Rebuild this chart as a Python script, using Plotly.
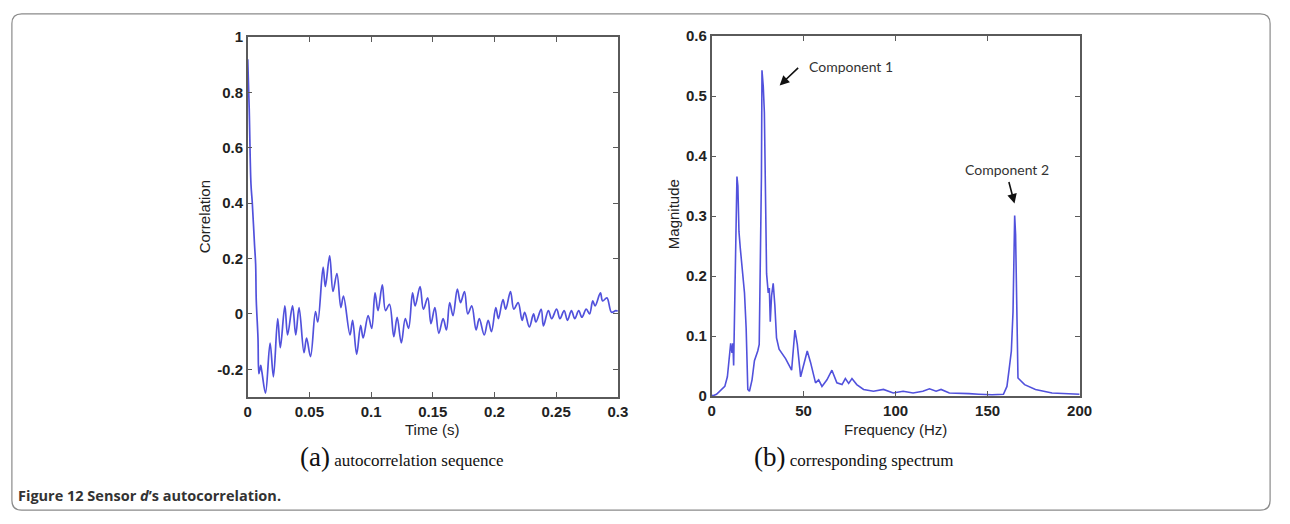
import plotly.graph_objects as go

W, H = 1290, 524

# ---- Data: (a) autocorrelation sequence ----
time_s = [0, 0.0012, 0.0026, 0.0037, 0.0055, 0.0064, 0.0069, 0.0083, 0.009, 0.0098, 0.0105, 0.0115,
          0.0144, 0.0181, 0.0208, 0.0243, 0.0264, 0.0301, 0.0323, 0.0363, 0.0389, 0.0416, 0.0456,
          0.0477, 0.0509, 0.0549, 0.0568, 0.0611, 0.0629, 0.0664, 0.0691, 0.0723, 0.0755, 0.0776,
          0.0829, 0.085, 0.0883, 0.0915, 0.0936, 0.0976, 0.1005, 0.1032, 0.1056, 0.1091, 0.1117,
          0.1149, 0.1184, 0.1211, 0.1245, 0.1277, 0.1304, 0.1336, 0.1357, 0.1397, 0.1424, 0.1459,
          0.1485, 0.1517, 0.1549, 0.1584, 0.1611, 0.1637, 0.1664, 0.1699, 0.1725, 0.1757, 0.1784,
          0.1816, 0.1851, 0.1877, 0.1917, 0.1949, 0.1976, 0.2011, 0.2032, 0.2069, 0.2091, 0.213,
          0.2157, 0.2192, 0.2224, 0.2245, 0.2283, 0.2317, 0.2336, 0.2379, 0.2397, 0.2437, 0.2464,
          0.2504, 0.2531, 0.2565, 0.2592, 0.2624, 0.2651, 0.2683, 0.2709, 0.2744, 0.2771, 0.2797,
          0.2816, 0.2859, 0.2877, 0.2912, 0.2949, 0.2984, 0.3]
correlation = [0.92, 0.74, 0.47, 0.40, 0.25, 0.18, 0.05, -0.087, -0.216, -0.2, -0.186, -0.21,
               -0.286, -0.105, -0.227, -0.017, -0.122, 0.029, -0.076, 0.029, -0.076, 0.023, -0.14,
               -0.087, -0.154, 0.008, -0.029, 0.169, 0.099, 0.21, 0.081, 0.146, 0.023, 0.064,
               -0.076, -0.023, -0.146, -0.041, -0.087, -0.006, -0.052, 0.076, 0.012, 0.105, 0.012,
               0.035, -0.082, -0.012, -0.105, -0.017, -0.052, 0.076, 0.029, 0.099, 0.017, 0.058,
               -0.035, 0.023, -0.07, -0.017, -0.058, 0.041, -0.006, 0.09, 0.041, 0.081, 0.0,
               0.029, -0.058, -0.017, -0.076, -0.023, -0.064, 0.023, -0.017, 0.052, 0.017, 0.081,
               0.017, 0.041, -0.023, 0.006, -0.047, 0.0, -0.029, 0.017, -0.043, 0.012, -0.017,
               0.017, -0.017, 0.012, -0.023, 0.012, -0.017, 0.012, -0.012, 0.017, 0.0, 0.047,
               0.029, 0.076, 0.047, 0.058, 0.006, 0.012, 0.01]

# ---- Data: (b) corresponding spectrum ----
freq_hz = [0, 0.5, 2.7, 7.2, 8.6, 9.9, 10.4, 11.1, 11.6, 12.0, 12.7, 13.1, 13.8, 14.3, 14.9, 15.6,
           16.7, 17.9, 18.8, 19.7, 20.6, 22.0, 23.3, 25.1, 25.9, 26.5, 27.1, 27.4, 28.1, 28.7,
           29.2, 29.9, 30.8, 31.4, 31.9, 32.6, 33.5, 34.4, 35.3, 36.7, 40.3, 43.5, 45.3, 46.6,
           48.4, 51.1, 52.0, 53.8, 56.5, 58.2, 60.0, 62.7, 65.4, 68.1, 70.9, 72.7, 74.5, 76.3,
           78.9, 82.6, 88.0, 93.4, 98.7, 104.1, 109.5, 114.8, 118.4, 122.0, 124.7, 129.2, 134.5,
           139.9, 145.2, 152.4, 158.6, 160.5, 161.7, 162.9, 163.8, 164.4, 164.7, 165.2, 166.0,
           166.5, 170.1, 176.0, 185.0, 197.5, 200.0]
magnitude = [0.002, 0.0, 0.003, 0.016, 0.032, 0.072, 0.088, 0.072, 0.088, 0.051, 0.172, 0.247,
             0.366, 0.35, 0.274, 0.247, 0.215, 0.172, 0.113, 0.011, 0.008, 0.027, 0.059, 0.075,
             0.086, 0.204, 0.366, 0.543, 0.516, 0.473, 0.366, 0.204, 0.172, 0.18, 0.124, 0.167,
             0.188, 0.151, 0.097, 0.078, 0.062, 0.043, 0.11, 0.086, 0.032, 0.065, 0.075, 0.056,
             0.022, 0.027, 0.016, 0.027, 0.043, 0.022, 0.019, 0.029, 0.021, 0.029, 0.019, 0.011,
             0.008, 0.011, 0.005, 0.008, 0.005, 0.008, 0.012, 0.008, 0.011, 0.005, 0.005, 0.004,
             0.003, 0.002, 0.003, 0.016, 0.045, 0.075, 0.14, 0.22, 0.301, 0.269, 0.108, 0.030,
             0.019, 0.011, 0.005, 0.003, 0.003]

left_xticks = [0, 0.05, 0.1, 0.15, 0.2, 0.25, 0.3]
left_yticks = [-0.2, 0, 0.2, 0.4, 0.6, 0.8, 1]
right_xticks = [0, 50, 100, 150, 200]
right_yticks = [0, 0.1, 0.2, 0.3, 0.4, 0.5, 0.6]


def px(x):
    return x / W


def py(y):
    return 1 - y / H


LINE = "#5151dc"
AXC = "#5a5a5a"
TICKFONT = dict(family="Liberation Sans, Arial", size=15, color="#222222", weight="bold")

fig = go.Figure()
fig.add_trace(go.Scatter(x=time_s, y=correlation, mode="lines",
                         line=dict(color=LINE, width=1.7, shape="spline", smoothing=1.0),
                         xaxis="x", yaxis="y", showlegend=False, hoverinfo="skip"))
fig.add_trace(go.Scatter(x=freq_hz, y=magnitude, mode="lines", line=dict(color=LINE, width=1.6),
                         xaxis="x2", yaxis="y2", showlegend=False, hoverinfo="skip"))

axis_common = dict(showgrid=False, zeroline=False, showline=True, linecolor=AXC, linewidth=1.5,
                   mirror="ticks", ticks="inside", ticklen=5, tickcolor=AXC, tickwidth=1,
                   tickfont=TICKFONT, fixedrange=True)

fig.update_layout(
    width=W, height=H,
    margin=dict(l=0, r=0, t=0, b=0),
    paper_bgcolor="white", plot_bgcolor="white",
    xaxis=dict(domain=[px(247), px(622)], range=[0, 0.3], tickvals=left_xticks,
               ticktext=["0", "0.05", "0.1", "0.15", "0.2", "0.25", "0.3"], anchor="y", **axis_common),
    yaxis=dict(domain=[py(401), py(29)], range=[-0.3, 1], tickvals=left_yticks,
               ticktext=["-0.2", "0", "0.2", "0.4", "0.6", "0.8", "1"], anchor="x", **axis_common),
    xaxis2=dict(domain=[px(717), px(1090)], range=[0, 200], tickvals=right_xticks,
                ticktext=[str(v) for v in right_xticks], anchor="y2", **axis_common),
    yaxis2=dict(domain=[py(400), py(28)], range=[0, 0.6], tickvals=right_yticks,
                ticktext=["0", "0.1", "0.2", "0.3", "0.4", "0.5", "0.6"], anchor="x2", **axis_common),
)

ann = []
TITLEFONT = dict(family="Liberation Sans, Arial", size=15, color="#222222")
ann.append(dict(x=px(434), y=py(435), xref="paper", yref="paper", text="Time (s)", showarrow=False,
                font=TITLEFONT, xanchor="center", yanchor="middle"))
ann.append(dict(x=px(903), y=py(435), xref="paper", yref="paper", text="Frequency (Hz)", showarrow=False,
                font=TITLEFONT, xanchor="center", yanchor="middle"))
ann.append(dict(x=px(203), y=py(215), xref="paper", yref="paper", text="Correlation", showarrow=False,
                font=TITLEFONT, textangle=-90, xanchor="center", yanchor="middle"))
ann.append(dict(x=px(678), y=py(212), xref="paper", yref="paper", text="Magnitude", showarrow=False,
                font=TITLEFONT, textangle=-90, xanchor="center", yanchor="middle"))

COMPFONT = dict(family="Lato, Open Sans", size=14, color="#333333")
ann.append(dict(x=px(814), y=py(59), xref="paper", yref="paper", text="Component 1", showarrow=False,
                font=COMPFONT, xanchor="left", yanchor="middle"))
ann.append(dict(x=px(1016), y=py(166), xref="paper", yref="paper", text="Component 2", showarrow=False,
                font=COMPFONT, xanchor="center", yanchor="middle"))
ann.append(dict(x=px(786), y=py(79), xref="paper", yref="paper", text="", showarrow=True,
                ax=20, ay=-19, axref="pixel", ayref="pixel", arrowhead=2, arrowsize=1.2, arrowwidth=1.6,
                arrowcolor="#111111"))
ann.append(dict(x=px(1024), y=py(201), xref="paper", yref="paper", text="", showarrow=True,
                ax=-6, ay=-23, axref="pixel", ayref="pixel", arrowhead=2, arrowsize=1.2, arrowwidth=1.6,
                arrowcolor="#111111"))

CAPFONT = dict(family="Liberation Serif, Times New Roman", size=17, color="#111111")
ann.append(dict(x=px(298), y=py(463), xref="paper", yref="paper",
                text="<span style='font-size:27px'>(a)</span> autocorrelation sequence", showarrow=False,
                font=CAPFONT, xanchor="left", yanchor="middle"))
ann.append(dict(x=px(758), y=py(463), xref="paper", yref="paper",
                text="<span style='font-size:27px'>(b)</span> corresponding spectrum", showarrow=False,
                font=CAPFONT, xanchor="left", yanchor="middle"))
ann.append(dict(x=px(12), y=py(503), xref="paper", yref="paper",
                text="<b>Figure 12 Sensor <i>d</i>’s autocorrelation.</b>", showarrow=False,
                font=dict(family="Open Sans", size=14.5, color="#333333"), xanchor="left", yanchor="middle"))
fig.update_layout(annotations=ann)

# rounded outer frame
x0, y0, x1, y1, r = 8, 5, 1283, 518, 10
path = (f"M {px(x0+r)},{py(y0)} L {px(x1-r)},{py(y0)} Q {px(x1)},{py(y0)} {px(x1)},{py(y0+r)} "
        f"L {px(x1)},{py(y1-r)} Q {px(x1)},{py(y1)} {px(x1-r)},{py(y1)} "
        f"L {px(x0+r)},{py(y1)} Q {px(x0)},{py(y1)} {px(x0)},{py(y1-r)} "
        f"L {px(x0)},{py(y0+r)} Q {px(x0)},{py(y0)} {px(x0+r)},{py(y0)} Z")
fig.add_shape(type="path", path=path, xref="paper", yref="paper", line=dict(color="#8a8a8a", width=1.2))

fig.write_html("out.html")
